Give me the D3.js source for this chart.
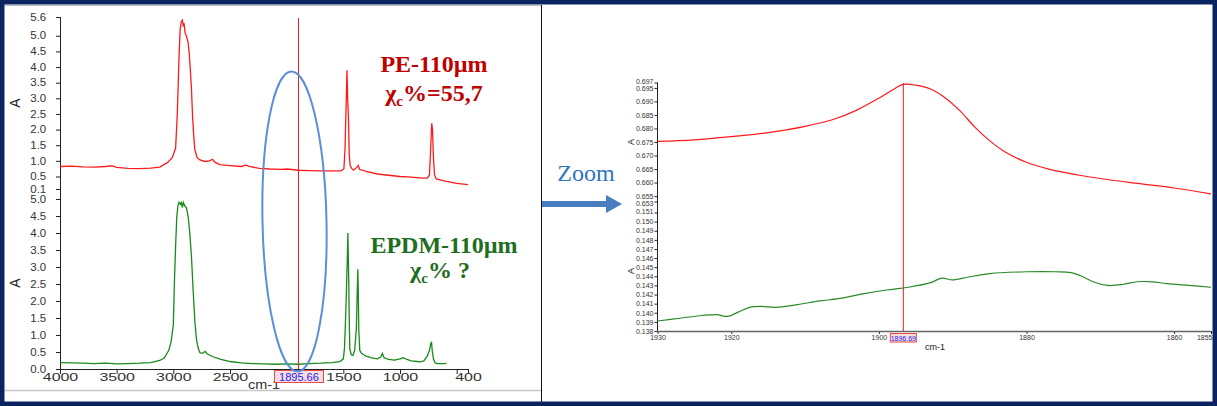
<!DOCTYPE html>
<html><head><meta charset="utf-8">
<script src="https://cdn.jsdelivr.net/npm/d3@7"></script>
<style>
html,body{margin:0;padding:0;background:#fff;}
svg{display:block;}
text{font-family:"Liberation Sans",Arial,sans-serif;}
</style></head><body><svg id="c" width="1217" height="406"></svg>
<script>
// ---------- DATA ----------
// Left, top panel: PE-110µm spectrum (cm-1, absorbance)
const peWn  = [4000,3900,3800,3700,3600,3540,3500,3400,3300,3200,3120,3050,3010,2980,2965,2950,2940,2930,2920,2912,2905,2897,2885,2870,2860,2850,2840,2830,2820,2810,2790,2765,2720,2680,2655,2630,2590,2500,2400,2360,2330,2240,2150,2050,1990,1900,1800,1700,1600,1520,1495,1485,1475,1468,1462,1455,1448,1440,1425,1410,1380,1368,1355,1330,1300,1200,1100,1000,900,800,760,740,728,720,713,705,695,680,600,500,400];
const peAbs = [0.82,0.83,0.81,0.80,0.82,0.84,0.79,0.76,0.75,0.77,0.80,0.95,1.10,1.40,2.5,4.3,5.2,5.45,5.5,5.3,5.4,5.1,5.0,4.8,4.45,3.9,3.3,2.4,1.8,1.35,1.1,1.03,0.98,1.0,1.05,0.95,0.88,0.85,0.82,0.86,0.82,0.76,0.74,0.73,0.74,0.70,0.69,0.68,0.68,0.68,0.74,1.4,2.8,3.9,3.0,2.4,1.2,0.85,0.75,0.70,0.80,0.85,0.72,0.70,0.66,0.58,0.54,0.50,0.48,0.45,0.45,0.55,1.5,2.2,2.0,1.1,0.55,0.42,0.35,0.28,0.24];
// Left, bottom panel: EPDM-110µm spectrum
const epdmWn  = [4000,3900,3800,3700,3600,3500,3400,3300,3200,3120,3080,3040,3020,3000,2990,2980,2970,2960,2950,2940,2930,2920,2912,2900,2885,2870,2855,2840,2825,2810,2795,2780,2765,2740,2720,2700,2650,2580,2500,2400,2300,2200,2100,2000,1900,1800,1700,1600,1530,1500,1490,1480,1472,1466,1460,1456,1452,1448,1443,1430,1415,1400,1385,1378,1372,1368,1364,1355,1340,1320,1300,1250,1200,1170,1155,1140,1100,1050,1000,970,940,900,850,820,790,760,740,728,722,716,705,690,670,600,590];
const epdmAbs = [0.19,0.18,0.17,0.16,0.17,0.15,0.16,0.17,0.19,0.25,0.32,0.55,0.8,1.3,2.6,3.6,4.45,4.8,4.9,4.85,4.9,4.75,4.9,4.8,4.75,4.5,4.0,3.3,2.3,1.4,0.85,0.6,0.48,0.46,0.52,0.44,0.36,0.28,0.22,0.18,0.16,0.15,0.14,0.15,0.14,0.16,0.17,0.19,0.22,0.3,0.6,1.5,2.4,3.1,4.0,3.3,2.5,1.5,0.6,0.42,0.40,0.55,1.2,2.2,2.93,2.3,1.2,0.55,0.46,0.42,0.38,0.33,0.30,0.35,0.46,0.33,0.28,0.26,0.30,0.33,0.28,0.24,0.22,0.21,0.24,0.38,0.55,0.75,0.8,0.55,0.3,0.18,0.16,0.16,0.17];
// Right: zoom 1930-1855 cm-1
const zoomWn   = [1930,1925,1920,1915,1910,1906,1903,1900,1898,1896.7,1895,1893,1891,1889,1887,1885,1883,1880,1877,1873,1870,1865,1860,1855];
const zoomPE   = [0.6752,0.6758,0.6770,0.6785,0.6808,0.6835,0.6868,0.6912,0.6945,0.6963,0.6960,0.6946,0.6913,0.6865,0.6805,0.6755,0.6715,0.6675,0.6650,0.6628,0.6615,0.6597,0.6580,0.6558];
const zoomWn2  = [1930,1927,1924,1922,1920.5,1919,1917.5,1916,1914,1911,1908,1905,1902,1899,1896,1893,1891.5,1890,1888,1885,1880,1876,1874,1872.5,1871,1869,1867,1865,1863,1861,1858,1855];
const zoomEPDM = [0.1391,0.1394,0.1397,0.1398,0.1396,0.1401,0.1406,0.1407,0.1406,0.1409,0.1413,0.1416,0.1421,0.1425,0.1428,0.1433,0.1438,0.1436,0.1439,0.1443,0.1445,0.1445,0.1444,0.1440,0.1434,0.1430,0.1431,0.1434,0.1434,0.1432,0.1430,0.1428];
// Tick values / labels
const leftTopTicks = [0.1,0.5,1.0,1.5,2.0,2.5,3.0,3.5,4.0,4.5,5.0,5.6];
const leftBotTicks = [0.0,0.5,1.0,1.5,2.0,2.5,3.0,3.5,4.0,4.5,5.0];
const leftXTicks   = [4000,3500,3000,2500,2000,1500,1000,500,400];
const leftXLabels  = [4000,3500,3000,2500,1500,1000,400];
const rightTopTicks = [0.653,0.655,0.660,0.665,0.670,0.675,0.680,0.685,0.690,0.695,0.697];
const rightBotTicks = [0.138,0.139,0.140,0.141,0.142,0.143,0.144,0.145,0.146,0.147,0.148,0.149,0.150,0.151];
const rightXTicks   = [1930,1920,1900,1880,1860,1855];
const leftCursor = 1895.66, rightCursor = 1896.69;

// ---------- DRAW ----------
const svg = d3.select("#c");
const NAVY = "#0b2461";

// left panel frame
svg.append("line").attr("x1",5).attr("x2",541).attr("y1",5.5).attr("y2",5.5).attr("stroke","#bbb");
svg.append("line").attr("x1",5).attr("x2",541).attr("y1",390.5).attr("y2",390.5).attr("stroke","#c8c8c8").attr("stroke-width",1.5);
svg.append("line").attr("x1",541.5).attr("x2",541.5).attr("y1",5).attr("y2",402).attr("stroke","#111");

// scales
const xL = d3.scaleLinear().domain([4000,400]).range([60,468]);
const yLT = d3.scaleLinear().domain([0.1,5.6]).range([189,17]);
const yLB = d3.scaleLinear().domain([0,5.0]).range([369,199]);
const xR = d3.scaleLinear().domain([1930,1855]).range([657.5,1211]);
const yRT = d3.scaleLinear().domain([0.653,0.697]).range([201.5,82.5]);
const yRB = d3.scaleLinear().domain([0.138,0.151]).range([331,212.5]);

function styleAxis(g, color, fs){
  g.select(".domain").remove();
  g.selectAll("line").attr("stroke","#222");
  g.selectAll("text").attr("fill",color).style("font-size",fs+"px");
}

// left y axes
const gyT = svg.append("g").attr("transform","translate(60,0)")
  .call(d3.axisLeft(yLT).tickValues(leftTopTicks).tickSize(4).tickPadding(8).tickFormat(d3.format(".1f")));
styleAxis(gyT,"#333",10);
const gyB = svg.append("g").attr("transform","translate(60,0)")
  .call(d3.axisLeft(yLB).tickValues(leftBotTicks).tickSize(4).tickPadding(8).tickFormat(d3.format(".1f")));
styleAxis(gyB,"#333",10);
[gyT,gyB].forEach(g=>g.selectAll("text").attr("transform","scale(1.15,1)"));
svg.append("line").attr("x1",60.5).attr("x2",60.5).attr("y1",17).attr("y2",369).attr("stroke","#222");

// left x axis
const gx = svg.append("g").attr("transform","translate(0,369)")
  .call(d3.axisBottom(xL).tickValues(leftXTicks).tickSize(5)
    .tickFormat(d=>leftXLabels.includes(d)?String(d):""));
styleAxis(gx,"#333",11);
gx.selectAll("text").attr("y",4).attr("transform","scale(1.45,1)");
svg.append("line").attr("x1",60).attr("x2",468).attr("y1",369.5).attr("y2",369.5).attr("stroke","#222");

// axis titles
svg.append("text").attr("transform","translate(20,103) rotate(-90)").attr("text-anchor","middle")
  .style("font-size","14px").attr("fill","#222").text("A");
svg.append("text").attr("transform","translate(20,283) rotate(-90)").attr("text-anchor","middle")
  .style("font-size","14px").attr("fill","#222").text("A");
svg.append("text").attr("transform","translate(264,389) scale(1.2,1)").attr("text-anchor","middle")
  .style("font-size","12px").attr("fill","#333").text("cm-1");

// spectra
const lineL = (ys) => d3.line().x(d=>xL(d[0])).y(d=>ys(d[1]));
svg.append("path").datum(d3.zip(peWn,peAbs)).attr("d",lineL(yLT))
  .attr("fill","none").attr("stroke","#ff1a1a").attr("stroke-width",1.3);
svg.append("path").datum(d3.zip(epdmWn,epdmAbs)).attr("d",lineL(yLB))
  .attr("fill","none").attr("stroke","#1a8a1a").attr("stroke-width",1.3);

// left cursor
svg.append("line").attr("x1",xL(leftCursor)).attr("x2",xL(leftCursor)).attr("y1",18).attr("y2",369)
  .attr("stroke","#e02020").attr("stroke-width",1);
svg.append("rect").attr("x",xL(leftCursor)-24).attr("y",370.5).attr("width",49).attr("height",12)
  .attr("fill","#f6dede").attr("stroke","#e84a4a").attr("stroke-width",1);
svg.append("text").attr("x",xL(leftCursor)+0.5).attr("y",380.5).attr("text-anchor","middle")
  .style("font-size","11px").attr("fill","#2222ff").text(leftCursor.toFixed(2));

// ellipse highlight
svg.append("ellipse").attr("cx",0).attr("cy",0).attr("rx",32).attr("ry",150)
  .attr("transform","translate(294.5,221.5) rotate(-1.2)")
  .attr("fill","none").attr("stroke","#5b8fd8").attr("stroke-width",2);

// labels
const serif = '"Liberation Serif","Times New Roman",serif';
function label(x,y,color,parts){
  const t = svg.append("text").attr("x",x).attr("y",y).attr("text-anchor","middle")
    .style("font-family",serif).style("font-weight","bold").attr("fill",color).style("font-size","24px");
  parts.forEach(p=>{
    const s = t.append("tspan").text(p.t);
    if(p.sub){ s.style("font-size","15px").attr("dy",5); }
    else if(p.after){ s.attr("dy",-5); }
  });
}
label(434,72,"#c00000",[{t:"PE-110µm"}]);
label(434,101,"#c00000",[{t:"χ"},{t:"c",sub:true},{t:"%=55,7",after:true}]);
label(444,253,"#1e6e1e",[{t:"EPDM-110µm"}]);
label(440,278,"#1e6e1e",[{t:"χ"},{t:"c",sub:true},{t:"% ?",after:true}]);

// Zoom arrow
svg.append("text").attr("x",586).attr("y",181).attr("text-anchor","middle")
  .style("font-family",serif).style("font-size","24px").attr("fill","#2e75c0").text("Zoom");
svg.append("path").attr("d","M542,201 L606,201 L606,195 L622,204 L606,213 L606,207 L542,207 Z")
  .attr("fill","#4a7cc0");

// right axes
const ryT = svg.append("g").attr("transform","translate(657.5,0)")
  .call(d3.axisLeft(yRT).tickValues(rightTopTicks).tickSize(3).tickPadding(1).tickFormat(d3.format(".3f")));
styleAxis(ryT,"#333",7);
ryT.selectAll("text").attr("dy",d=>d===0.653?"0.62em":(d===0.697?"0.1em":"0.32em"));
const ryB = svg.append("g").attr("transform","translate(657.5,0)")
  .call(d3.axisLeft(yRB).tickValues(rightBotTicks).tickSize(3).tickPadding(1).tickFormat(d3.format(".3f")));
styleAxis(ryB,"#333",7);
ryB.selectAll("text").attr("dy",d=>d===0.151?"0.15em":"0.32em");
svg.append("line").attr("x1",657.5).attr("x2",657.5).attr("y1",82.5).attr("y2",331).attr("stroke","#222");
const rx = svg.append("g").attr("transform","translate(0,331)")
  .call(d3.axisBottom(xR).tickValues(rightXTicks).tickSize(3).tickPadding(1).tickFormat(d3.format("d")));
styleAxis(rx,"#333",7);
rx.selectAll("text").filter(d=>d===1855).attr("text-anchor","end").attr("x",1);
svg.append("line").attr("x1",657.5).attr("x2",1211).attr("y1",331.5).attr("y2",331.5).attr("stroke","#666").attr("stroke-width",1.5);
svg.append("text").attr("transform","translate(634,142) rotate(-90)").attr("text-anchor","middle")
  .style("font-size","9px").attr("fill","#222").text("A");
svg.append("text").attr("transform","translate(634,271) rotate(-90)").attr("text-anchor","middle")
  .style("font-size","9px").attr("fill","#222").text("A");
svg.append("text").attr("x",935).attr("y",350).attr("text-anchor","middle")
  .style("font-size","9px").attr("fill","#222").text("cm-1");

// right curves
const lineR = (ys) => d3.line().x(d=>xR(d[0])).y(d=>ys(d[1])).curve(d3.curveCatmullRom.alpha(0.5));
svg.append("path").datum(d3.zip(zoomWn,zoomPE)).attr("d",lineR(yRT))
  .attr("fill","none").attr("stroke","#ff1a1a").attr("stroke-width",1.2);
svg.append("path").datum(d3.zip(zoomWn2,zoomEPDM)).attr("d",lineR(yRB))
  .attr("fill","none").attr("stroke","#2a8a2a").attr("stroke-width",1.2);

// right cursor
svg.append("line").attr("x1",xR(rightCursor)).attr("x2",xR(rightCursor)).attr("y1",83).attr("y2",331)
  .attr("stroke","#e02020").attr("stroke-width",1);
svg.append("rect").attr("x",xR(rightCursor)-13).attr("y",333.5).attr("width",26).attr("height",8.5)
  .attr("fill","#f6dede").attr("stroke","#e84a4a").attr("stroke-width",1);
svg.append("text").attr("x",xR(rightCursor)).attr("y",340.5).attr("text-anchor","middle")
  .style("font-size","7px").attr("fill","#2222ff").text(rightCursor.toFixed(2));

// outer navy border
svg.append("rect").attr("x",2.25).attr("y",2.25).attr("width",1212.5).attr("height",401.5)
  .attr("fill","none").attr("stroke",NAVY).attr("stroke-width",4.5);
</script></body></html>
